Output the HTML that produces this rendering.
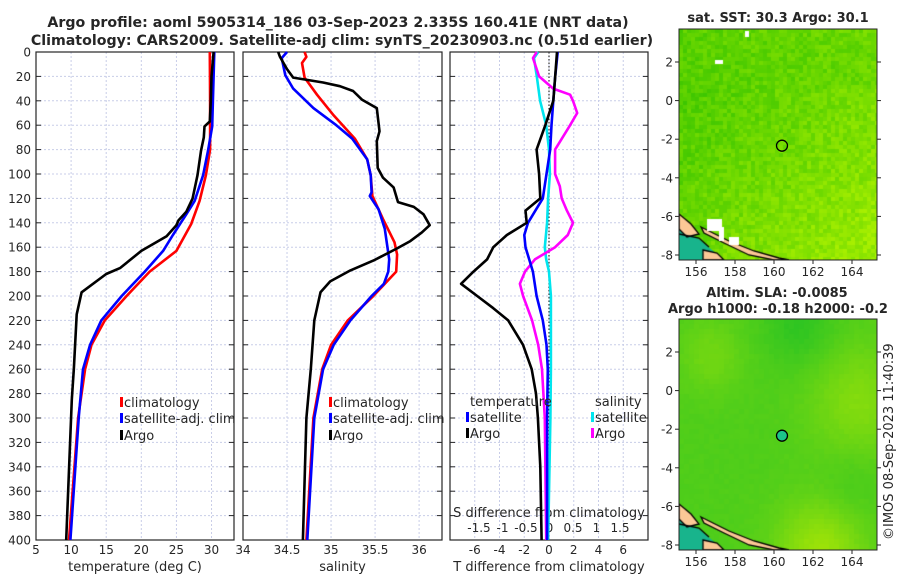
<!DOCTYPE html>
<html><head><meta charset="utf-8">
<style>
html,body{margin:0;padding:0;background:#fff;}
body{width:900px;height:580px;position:relative;overflow:hidden;font-family:"DejaVu Sans","Liberation Sans",sans-serif;}
svg text{font-family:"DejaVu Sans","Liberation Sans",sans-serif;fill:#262626;}
canvas{position:absolute;}
</style></head>
<body>
<canvas id="map1" width="198" height="231" style="left:679px;top:29px"></canvas>
<canvas id="map2" width="198" height="231" style="left:679px;top:319px"></canvas>
<svg id="chart" width="900" height="580" style="position:absolute;left:0;top:0"></svg>
<script>
// ---------- data ----------
const tempDepthClim=[0,40,80,101,122,141,163,180,200,220,240,260,300,400];
const tempClim=[29.75,29.8,29.8,29.2,28.3,27.1,25.0,21.2,17.9,14.8,12.9,12.0,11.0,9.7];
const tempDepthSat=[0,40,61,81,101,122,133,150,163,180,200,220,240,260,299,400];
const tempSat=[30.4,30.2,30.1,29.5,28.8,27.6,26.4,24.5,23.1,20.5,17.2,14.3,12.7,11.7,11.1,9.9];
const tempDepthArgo=[0,20,40,57,61,70,81,101,120,131,138,142,151,163,177,182,197,215,259,285,400];
const tempArgo=[30.3,30.0,29.9,29.75,29.0,28.9,28.5,28.0,27.3,26.4,25.3,25.0,23.6,20.0,17.0,15.0,11.5,10.8,10.4,10.1,9.3];

const salDepthArgo=[0,4,14,21,25,28,32,39,46,65,73,95,103,111,123,127,133,142,148,155,161,171,179,188,197,220,260,300,400];
const salArgo=[34.40,34.42,34.50,34.57,34.91,35.10,35.25,35.35,35.52,35.55,35.52,35.53,35.59,35.71,35.76,35.94,36.05,36.12,36.03,35.90,35.75,35.48,35.22,34.99,34.88,34.81,34.77,34.72,34.68];
const salDepthClim=[0,4,9,21,35,52,71,88,101,118,137,156,166,180,200,220,240,260,300,400];
const salClim=[34.70,34.72,34.67,34.70,34.84,35.03,35.27,35.41,35.45,35.47,35.59,35.72,35.75,35.74,35.48,35.19,35.00,34.90,34.80,34.72];
const salDepthSat=[0,5,19,30,46,60,71,88,101,115,118,129,145,170,180,190,200,220,240,260,300,400];
const salSat=[34.50,34.44,34.48,34.57,34.80,35.06,35.24,35.41,35.45,35.46,35.44,35.54,35.61,35.66,35.65,35.60,35.46,35.22,35.03,34.91,34.81,34.73];

const diffDepthT=[0,20,40,60,80,100,120,130,140,150,160,170,180,190,200,210,220,240,260,280,300,340,400];
const dTArgo=[0.65,0.5,0.35,-0.3,-1.0,-0.8,-0.7,-1.9,-1.8,-3.4,-4.5,-5.0,-6.1,-7.1,-5.8,-4.5,-3.3,-2.1,-1.4,-1.05,-0.9,-0.7,-0.6];
const diffDepthTS=[0,20,40,60,80,100,120,130,140,150,160,170,180,200,220,240,260,300,400];
const dTSat=[0.7,0.5,0.35,0.2,0.1,-0.2,-0.5,-1.1,-1.7,-2.0,-1.9,-1.6,-1.3,-1.0,-0.5,-0.2,-0.1,-0.15,-0.15];
const diffDepthSS=[0,5,20,40,60,80,100,120,140,160,170,180,200,260,300,400];
const dSSat=[-0.23,-0.32,-0.26,-0.19,-0.06,0,0.02,-0.02,-0.04,-0.09,-0.06,0,0.04,0.04,0.03,-0.02];
const diffDepthSA=[0,5,20,30,35,40,50,60,80,100,110,120,130,140,150,160,170,180,190,200,220,240,260,300,400];
const dSArgo=[-0.26,-0.34,-0.21,0.09,0.45,0.51,0.6,0.45,0.13,0.13,0.23,0.27,0.38,0.51,0.4,0.13,-0.3,-0.51,-0.62,-0.55,-0.36,-0.23,-0.15,-0.09,-0.06];

const depthTicks=[0,20,40,60,80,100,120,140,160,180,200,220,240,260,280,300,320,340,360,380,400];
const tempTicks=[5,10,15,20,25,30];
const salTicks=[34,34.5,35,35.5,36];
const dTTicks=[-6,-4,-2,0,2,4,6];
const dSTicks=[-1.5,-1,-0.5,0,0.5,1,1.5];
const lonTicks=[156,158,160,162,164];
const latTicks=[2,0,-2,-4,-6,-8];

// ---------- helpers ----------
const NS='http://www.w3.org/2000/svg';
const svg=document.getElementById('chart');
function mk(tag,attrs,parent){const e=document.createElementNS(NS,tag);for(const k in attrs)e.setAttribute(k,attrs[k]);(parent||svg).appendChild(e);return e;}
function txt(x,y,s,opts){const t=mk('text',Object.assign({x:x,y:y,'font-size':13},opts||{}));t.textContent=s;return t;}
const Y0=52,Y1=540;
const yScale=d=>Y0+d/400*(Y1-Y0);
function linear(d0,d1,r0,r1){return v=>r0+(v-d0)/(d1-d0)*(r1-r0);}

const panels=[
 {name:'temperature-panel',x0:36,x1:234,xs:linear(5,33.2,36,234),ticks:tempTicks,label:'temperature (deg C)'},
 {name:'salinity-panel',x0:243,x1:442,xs:linear(34,36.26,243,442),ticks:salTicks,label:'salinity'},
 {name:'difference-panel',x0:450,x1:648,xs:linear(-8,8,450,648),ticks:dTTicks,label:'T difference from climatology'}
];
panels.forEach((p,i)=>{
 const g=mk('g',{});
 
 
 depthTicks.forEach(d=>{if(d>0&&d<400)mk('line',{x1:p.x0,x2:p.x1,y1:yScale(d),y2:yScale(d),stroke:'#c8cde8','stroke-dasharray':'2,2','stroke-width':1},g);});
 p.ticks.forEach(v=>{const x=p.xs(v);if(x>p.x0+1&&x<p.x1-1)mk('line',{x1:x,x2:x,y1:Y0,y2:Y1,stroke:'#c8cde8','stroke-dasharray':'2,2','stroke-width':1},g);});
 mk('rect',{x:p.x0,y:Y0,width:p.x1-p.x0,height:Y1-Y0,fill:'none',stroke:'#262626','stroke-width':1.2},g);
 depthTicks.forEach(d=>{const y=yScale(d);
   mk('line',{x1:p.x0,x2:p.x0+5,y1:y,y2:y,stroke:'#262626'},g);
   mk('line',{x1:p.x1-5,x2:p.x1,y1:y,y2:y,stroke:'#262626'},g);
   if(i===0){const t=txt(31,y+4.5,String(d),{'text-anchor':'end','font-size':12});}
 });
 p.ticks.forEach(v=>{const x=p.xs(v);const t=txt(x,554,String(v),{'text-anchor':'middle','font-size':12});});
 const l=txt((p.x0+p.x1)/2,571,p.label,{'text-anchor':'middle','font-size':13});
 
 
});
// dS axis
const dSx=linear(-1.5,1.5,479,620);
dSTicks.forEach(v=>{const t=txt(dSx(v),532,String(v),{'text-anchor':'middle','font-size':12});});
{const t=txt(549,517,'S difference from climatology',{'text-anchor':'middle','font-size':13});}
// zero line
mk('line',{x1:549,x2:549,y1:Y0,y2:Y1,stroke:'#333','stroke-dasharray':'1.5,2','stroke-width':1.2});

function series(depths,vals,xs,color,name,w){
 const pts=depths.map((d,k)=>xs(vals[k]).toFixed(1)+','+yScale(d).toFixed(1)).join(' ');
 const pl=mk('polyline',{points:pts,fill:'none',stroke:color,'stroke-width':w||2.6,'stroke-linejoin':'round'});
 
 
}
const P=panels;
series(tempDepthClim,tempClim,P[0].xs,'#ff0000','temp-climatology-line');
series(tempDepthSat,tempSat,P[0].xs,'#0000ff','temp-satellite-line');
series(tempDepthArgo,tempArgo,P[0].xs,'#000000','temp-argo-line');
series(salDepthClim,salClim,P[1].xs,'#ff0000','sal-climatology-line');
series(salDepthSat,salSat,P[1].xs,'#0000ff','sal-satellite-line');
series(salDepthArgo,salArgo,P[1].xs,'#000000','sal-argo-line');
const dSscale=v=>549+v*47;
series(diffDepthSS,dSSat,dSscale,'#00e5ee','s-diff-satellite-line');
series(diffDepthSA,dSArgo,dSscale,'#ff00ff','s-diff-argo-line');
series(diffDepthTS,dTSat,P[2].xs,'#0000ff','t-diff-satellite-line');
series(diffDepthT,dTArgo,P[2].xs,'#000000','t-diff-argo-line');

function legendEntry(x,y,color,label){
 const g=mk('g',{});
 
 
 mk('rect',{x:x,y:y-10,width:3,height:10,fill:color},g);
 const t=txt(x+4,y,label,{'font-size':13});g.appendChild(t);
}
legendEntry(120,407,'#ff0000','climatology');
legendEntry(120,423,'#0000ff','satellite-adj. clim');
legendEntry(120,440,'#000000','Argo');
legendEntry(329,407,'#ff0000','climatology');
legendEntry(329,423,'#0000ff','satellite-adj. clim');
legendEntry(329,440,'#000000','Argo');
{const t=txt(470,406,'temperature',{'font-size':13});}
{const t=txt(595,406,'salinity',{'font-size':13});}
legendEntry(466,422,'#0000ff','satellite');
legendEntry(466,438,'#000000','Argo');
legendEntry(591,422,'#00e5ee','satellite');
legendEntry(591,438,'#ff00ff','Argo');

// titles
{const t=txt(338,27,'Argo profile: aoml 5905314_186 03-Sep-2023 2.335S 160.41E (NRT data)',{'text-anchor':'middle','font-size':14.2,'font-weight':'bold'});}
{const t=txt(342,45,'Climatology: CARS2009. Satellite-adj clim: synTS_20230903.nc (0.51d earlier)',{'text-anchor':'middle','font-size':14.2,'font-weight':'bold'});}
{const t=txt(778,22,'sat. SST: 30.3 Argo: 30.1',{'text-anchor':'middle','font-size':13,'font-weight':'bold'});}
{const t=txt(777,297,'Altim. SLA: -0.0085',{'text-anchor':'middle','font-size':13,'font-weight':'bold'});}
{const t=txt(778,313,'Argo h1000: -0.18 h2000: -0.2',{'text-anchor':'middle','font-size':13,'font-weight':'bold'});}
{const t=txt(0,0,'©IMOS 08-Sep-2023 11:40:39',{'font-size':13,transform:'translate(893,540) rotate(-90)'});}

// map axes
const lonX=linear(156,164,696,852);
function mapAxes(top,bot,latY,name){
 const g=mk('g',{});
 
 
 mk('rect',{x:679,y:top,width:198,height:bot-top,fill:'none',stroke:'#262626','stroke-width':1},g);
 lonTicks.forEach(v=>{const x=lonX(v);mk('line',{x1:x,x2:x,y1:bot,y2:bot+4,stroke:'#262626'},g);
  const t=txt(x,bot+16,String(v),{'text-anchor':'middle','font-size':12});g.appendChild(t);});
 latTicks.forEach(v=>{const y=latY(v);mk('line',{x1:675,x2:679,y1:y,y2:y,stroke:'#262626'},g);mk('line',{x1:877,x2:881,y1:y,y2:y,stroke:'#262626'},g);
  const t=txt(673,y+4.5,String(v),{'text-anchor':'end','font-size':12});g.appendChild(t);});
}
const lat1=linear(2,-8,62,255), lat2=linear(2,-8,352,545);
mapAxes(29,260,lat1,'sst-map-axes');
mapAxes(319,550,lat2,'sla-map-axes');
const argoLon=160.41, argoLat=-2.335;
{const c=mk('circle',{cx:lonX(argoLon),cy:lat1(argoLat),r:5.5,fill:'none',stroke:'#000','stroke-width':1.3});}
{const c=mk('circle',{cx:lonX(argoLon),cy:lat2(argoLat),r:5.5,fill:'#1cc48a',stroke:'#000','stroke-width':1.3});}

// ---------- map textures ----------
function hash(i,j){let h=Math.sin(i*127.1+j*311.7)*43758.5453;return h-Math.floor(h);}
function drawMap(id,fn,cell){
 const ctx=document.getElementById(id).getContext('2d');
 for(let j=0;j<231;j+=cell)for(let i=0;i<198;i+=cell){ctx.fillStyle=fn(i/198,j/231,hash(i,j));ctx.fillRect(i,j,cell,cell);}
 ctx.fillStyle='#18b48c';ctx.beginPath();ctx.moveTo(0,200);ctx.lineTo(20,210);ctx.lineTo(45,231);ctx.lineTo(0,231);ctx.fill();
 ctx.fillStyle='#fcc896';ctx.strokeStyle='#000';ctx.lineWidth=1.3;
 ctx.beginPath();ctx.moveTo(0,185);ctx.lineTo(12,195);ctx.lineTo(20,205);ctx.lineTo(8,208);ctx.lineTo(0,200);ctx.closePath();ctx.fill();ctx.stroke();
 ctx.beginPath();ctx.moveTo(22,198);ctx.lineTo(50,212);ctx.lineTo(75,222);ctx.lineTo(100,229);ctx.lineTo(110,231);ctx.lineTo(95,231);ctx.lineTo(70,226);ctx.lineTo(45,214);ctx.lineTo(25,204);ctx.closePath();ctx.fill();ctx.stroke();
 ctx.beginPath();ctx.moveTo(24,221);ctx.lineTo(38,224);ctx.lineTo(45,231);ctx.lineTo(24,231);ctx.closePath();ctx.fill();ctx.stroke();
 ctx.beginPath();ctx.moveTo(0,205);ctx.lineTo(20,209);ctx.lineTo(30,218);ctx.stroke();
}
function sst(u,v,h){
 let t=0.45+0.35*u-0.15*Math.sin(v*3+1)+0.2*(v<0.25?0.3-u:0)+(h-0.5)*0.35;
 if(u<0.25&&v>0.75)t-=0.35*(v-0.75)*4*(0.25-u)*4;
 t=Math.max(0,Math.min(1,t));
 const r=Math.round(40+t*130),g=Math.round(190+t*50);
 return 'rgb('+r+','+g+',0)';
}
function sla(u,v,h){
 let t=0.35+0.3*Math.exp(-((u-0.9)**2+(v-0.35)**2)*15)+0.45*Math.exp(-((u-0.7)**2+(v-1)**2)*20)+0.2*Math.exp(-((u-0.15)**2+(v-0.15)**2)*40)-0.2*Math.exp(-((u-0.6)**2+(v-0.02)**2)*30)-0.1*Math.exp(-((u-0.85)**2+(v-0.7)**2)*40);
 t+=(h-0.5)*0.04;
 t=Math.max(0,Math.min(1,t));
 const r=Math.round(20+t*170),g=Math.round(190+t*45),b=Math.round(40*(1-t));
 return 'rgb('+r+','+g+','+b+')';
}
drawMap('map1',sst,4);
drawMap('map2',sla,5);
{const c=document.getElementById('map1').getContext('2d');c.fillStyle='#fff';c.fillRect(28,190,15,12);c.fillRect(40,198,5,14);c.fillRect(50,208,10,8);c.fillRect(36,31,8,4);c.fillRect(66,2,4,6);}
</script>
</body></html>
